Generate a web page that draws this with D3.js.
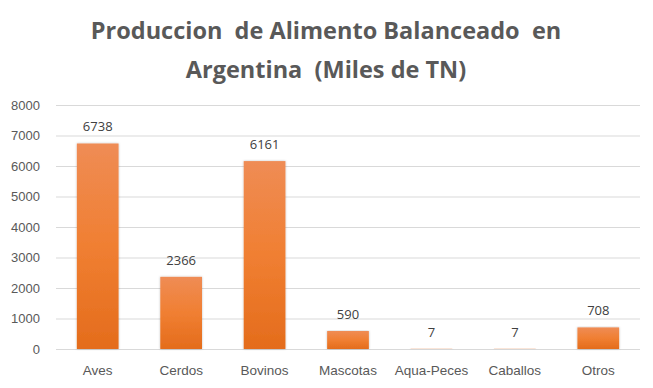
<!DOCTYPE html>
<html>
<head>
<meta charset="utf-8">
<script src="https://cdn.jsdelivr.net/npm/d3@7"></script>
<style>
  body { margin: 0; background: #fff; }
  svg { display: block; font-family: "Open Sans", "Liberation Sans", sans-serif; }
</style>
</head>
<body>
<div id="chart"></div>
<script>
var categories = ["Aves", "Cerdos", "Bovinos", "Mascotas", "Aqua-Peces", "Caballos", "Otros"];
var values = [6738, 2366, 6161, 590, 7, 7, 708];
var yTicks = [0, 1000, 2000, 3000, 4000, 5000, 6000, 7000, 8000];
var titleLines = ["Produccion  de Alimento Balanceado  en", "Argentina  (Miles de TN)"];

var WIDTH = 653, HEIGHT = 388;
var MARGIN = { top: 105, right: 13, bottom: 39, left: 56 };

var svg = d3.select("#chart").append("svg")
    .attr("width", WIDTH)
    .attr("height", HEIGHT);

var defs = svg.append("defs");
var grad = defs.append("linearGradient")
    .attr("id", "barGrad")
    .attr("x1", 0).attr("y1", 0).attr("x2", 0).attr("y2", 1);
grad.append("stop").attr("offset", "0%").attr("stop-color", "#ef8c55");
grad.append("stop").attr("offset", "50%").attr("stop-color", "#f07f32");
grad.append("stop").attr("offset", "100%").attr("stop-color", "#e46c1c");

var shadow = defs.append("filter").attr("id", "shadow")
    .attr("x", "-20%").attr("y", "-5%").attr("width", "140%").attr("height", "110%");
shadow.append("feDropShadow")
    .attr("dx", 0).attr("dy", 0).attr("stdDeviation", 1.2)
    .attr("flood-color", "#000").attr("flood-opacity", 0.25);

var x = d3.scaleBand()
    .domain(categories)
    .range([MARGIN.left, WIDTH - MARGIN.right])
    .paddingInner(0.5)
    .paddingOuter(0.25);

var y = d3.scaleLinear()
    .domain([0, 8000])
    .range([HEIGHT - MARGIN.bottom, MARGIN.top]);

// title
svg.append("text")
    .attr("x", 326)
    .attr("text-anchor", "middle")
    .attr("fill", "#595959")
    .attr("font-weight", "bold")
    .attr("font-size", "23.5px")
    .attr("xml:space", "preserve")
    .selectAll("tspan")
    .data(titleLines)
    .enter()
    .append("tspan")
    .attr("x", 326)
    .attr("y", function(d, i) { return 39 + i * 39; })
    .style("white-space", "pre")
    .text(function(d) { return d; });

// gridlines
var yAxis = d3.axisLeft(y)
    .tickValues(yTicks)
    .tickSize(-(WIDTH - MARGIN.left - MARGIN.right))
    .tickPadding(16)
    .tickFormat(d3.format("d"));

var gy = svg.append("g")
    .attr("transform", "translate(" + MARGIN.left + ",0)")
    .call(yAxis);
gy.select(".domain").remove();
gy.selectAll(".tick line").attr("stroke", "#d9d9d9").attr("stroke-width", 1);
gy.selectAll(".tick text")
    .attr("fill", "#595959")
    .attr("font-size", "13px");

// x axis labels
var xAxis = d3.axisBottom(x).tickSize(0).tickPadding(16);
var gx = svg.append("g")
    .attr("transform", "translate(0," + y(0) + ")")
    .call(xAxis);
gx.select(".domain").remove();
gx.selectAll(".tick text")
    .attr("fill", "#595959")
    .attr("font-size", "13.5px");

// bars
svg.selectAll(".bar")
    .data(values)
    .enter()
    .append("rect")
    .attr("class", "bar")
    .attr("x", function(d, i) { return x(categories[i]); })
    .attr("y", function(d) { return y(d); })
    .attr("width", x.bandwidth())
    .attr("height", function(d) { return y(0) - y(d); })
    .attr("fill", "url(#barGrad)")
    .attr("filter", "url(#shadow)");

// value labels
svg.selectAll(".val")
    .data(values)
    .enter()
    .append("text")
    .attr("class", "val")
    .attr("x", function(d, i) { return x(categories[i]) + x.bandwidth() / 2; })
    .attr("y", function(d) { return y(d) - 12; })
    .attr("text-anchor", "middle")
    .attr("fill", "#404040")
    .attr("font-size", "13px")
    .text(function(d) { return d; });
</script>
</body>
</html>
